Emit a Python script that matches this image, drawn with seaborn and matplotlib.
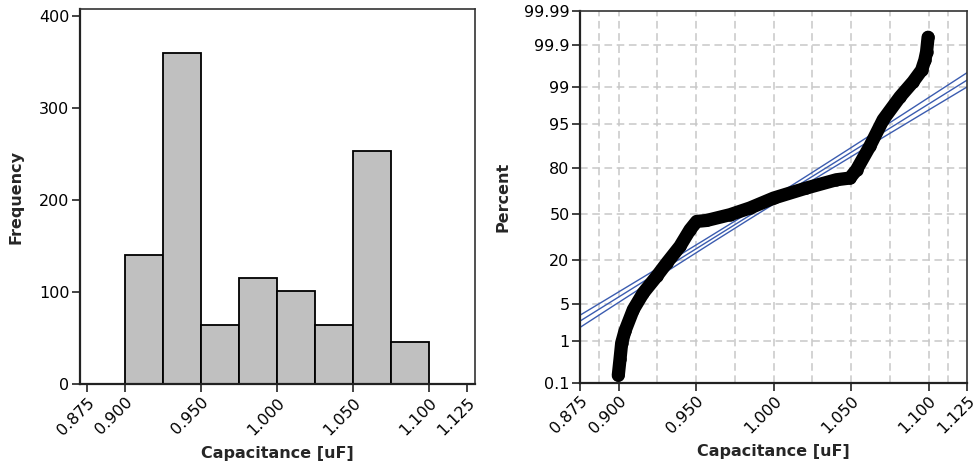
import numpy as np
import pandas as pd
import matplotlib
matplotlib.use("Agg")
import matplotlib.pyplot as plt
import seaborn as sns
from statistics import NormalDist

# ---------------- data ----------------
bin_edges = [0.900, 0.925, 0.950, 0.975, 1.000, 1.025, 1.050, 1.075, 1.100]
bin_counts = [140, 360, 64, 116, 101, 64, 254, 46]

x_ticks = [0.875, 0.900, 0.950, 1.000, 1.050, 1.100, 1.125]
x_tick_labels = ["0.875", "0.900", "0.950", "1.000", "1.050", "1.100", "1.125"]
freq_ticks = [0, 100, 200, 300, 400]
pct_ticks = [0.1, 1, 5, 20, 50, 80, 95, 99, 99.9, 99.99]
pct_tick_labels = ["0.1", "1", "5", "20", "50", "80", "95", "99", "99.9", "99.99"]

# probability-plot points (capacitance, percent)
pp_x = [0.8997, 0.9008, 0.9019, 0.9040, 0.9094, 0.9158, 0.9245, 0.9310, 0.9395,
        0.9460, 0.9503, 0.9567, 0.9718, 0.9847, 1.0000, 1.0211, 1.0405, 1.0492,
        1.0535, 1.0620, 1.0707, 1.0815, 1.0900, 1.0955, 1.0976, 1.0987, 1.0997]
pp_pct = [0.156, 0.386, 0.91, 1.6, 4.0, 7.4, 12.7, 18.5, 27.7,
          38.7, 44.6, 45.3, 49.5, 54.4, 61.5, 68.3, 73.5, 74.5,
          79.1, 89.2, 95.8, 98.4, 99.23, 99.58, 99.76, 99.85, 99.94]

# fitted normal distribution
fit_mean = 0.986
fit_sd = 0.0566
n_obs = 1145

# ---------------- style ----------------
sns.set_theme(style="white")
plt.rcParams['font.family'] = ['DejaVu Sans']
tick_fs = 11.5
label_fs = 11.5

fig = plt.figure(figsize=(9.74, 4.69), dpi=100)
ax1 = fig.add_axes([0.0821, 0.1806, 0.4055, 0.7996])
ax2 = fig.add_axes([0.5955, 0.184, 0.3976, 0.7925])

# ---------------- histogram ----------------
hist_df = pd.DataFrame({
    "mid": [(bin_edges[i] + bin_edges[i + 1]) / 2 for i in range(len(bin_counts))],
    "count": bin_counts,
})
sns.histplot(data=hist_df, x="mid", weights="count", bins=bin_edges, ax=ax1,
             color="#c0c0c0", edgecolor="black", linewidth=1.3, alpha=1)
ax1.set_xlim(0.8702, 1.1301)
ax1.set_ylim(0, 407.5)
ax1.set_xticks(x_ticks)
ax1.set_xticklabels(x_tick_labels, rotation=45, ha="right", rotation_mode="anchor",
                    fontsize=tick_fs)
ax1.set_yticks(freq_ticks)
ax1.set_yticklabels([str(t) for t in freq_ticks], fontsize=tick_fs)
ax1.set_xlabel("Capacitance [uF]", fontsize=label_fs, fontweight="bold", labelpad=6)
ax1.set_ylabel("Frequency", fontsize=label_fs, fontweight="bold", labelpad=11)

# ---------------- probability plot ----------------
nd = NormalDist()
def zval(p):
    return nd.inv_cdf(p / 100.0)

pp_df = pd.DataFrame({"x": pp_x, "z": [zval(p) for p in pp_pct]})

# fitted line and confidence bands
z_grid = np.linspace(-2.6, 3.0, 200)
fit_x = fit_mean + fit_sd * z_grid
se = fit_sd * np.sqrt(1.0 / n_obs + z_grid ** 2 / (2.0 * (n_obs - 1)))
band_df = pd.DataFrame({
    "z": np.concatenate([z_grid, z_grid, z_grid]),
    "x": np.concatenate([fit_x, fit_x - 2.2 * se, fit_x + 2.2 * se]),
    "line": ["fit"] * len(z_grid) + ["lo"] * len(z_grid) + ["hi"] * len(z_grid),
})

# grid
grid_x = [0.8875, 0.900, 0.925, 0.950, 0.975, 1.000, 1.025, 1.050, 1.075, 1.100, 1.1125]
for gx in grid_x:
    ax2.axvline(gx, color="#c8c8c8", lw=1.1, ls=(0, (5, 3)), zorder=0)
for p in pct_ticks[1:-1]:
    ax2.axhline(zval(p), color="#c8c8c8", lw=1.1, ls=(0, (5, 3)), zorder=0)

for name in ["fit", "lo", "hi"]:
    sub = band_df[band_df["line"] == name]
    sns.lineplot(data=sub, x="x", y="z", sort=False, ax=ax2, color="#3b5cb0",
                 lw=1.0, zorder=2, estimator=None)

sns.lineplot(data=pp_df, x="x", y="z", sort=False, estimator=None, ax=ax2,
             color="black", lw=9.5, solid_capstyle="round", solid_joinstyle="round",
             zorder=3)
sns.scatterplot(data=pp_df, x="x", y="z", ax=ax2, color="black", s=80,
                edgecolor="black", linewidth=0, zorder=4)

ax2.set_xlim(0.875, 1.125)
ax2.set_ylim(zval(0.1), zval(99.99))
ax2.set_xticks(x_ticks)
ax2.set_xticklabels(x_tick_labels, rotation=45, ha="right", rotation_mode="anchor",
                    fontsize=tick_fs)
ax2.set_yticks([zval(p) for p in pct_ticks])
ax2.set_yticklabels(pct_tick_labels, fontsize=tick_fs)
ax2.set_xlabel("Capacitance [uF]", fontsize=label_fs, fontweight="bold", labelpad=6)
ax2.set_ylabel("Percent", fontsize=label_fs, fontweight="bold", labelpad=10)

for ax in (ax1, ax2):
    for side in ["left", "bottom"]:
        ax.spines[side].set_color("#222222")
        ax.spines[side].set_linewidth(1.6)
    for side in ["top", "right"]:
        ax.spines[side].set_color("#333333")
        ax.spines[side].set_linewidth(1.2)
        ax.spines[side].set_visible(True)
    ax.tick_params(axis="both", which="major", direction="out", length=5.5, width=1.2,
                   color="#222222", labelcolor="black", pad=2,
                   bottom=True, left=True, top=False, right=False)
    ax.grid(False)

fig.savefig("out.png", dpi=100)
